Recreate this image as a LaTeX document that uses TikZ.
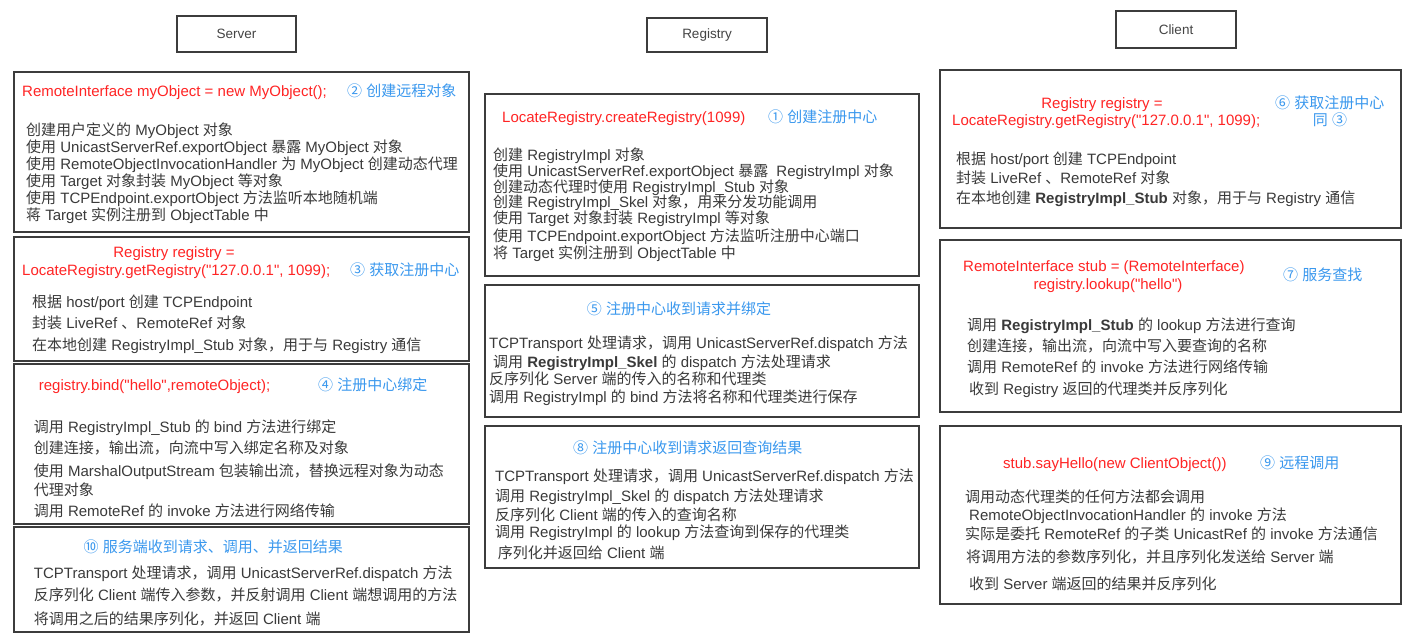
\documentclass[tikz,border=0pt]{standalone}
\usepackage{fontspec}
\setmainfont{Liberation Sans}[Ligatures=TeXOff]
\newfontfamily\cjkf{Noto Sans CJK SC}
\XeTeXinterchartokenstate=1
\newcount\cjkcnt
\newcommand\setcjkclass[3]{\cjkcnt=#1\relax\loop\XeTeXcharclass\cjkcnt=#3\relax\advance\cjkcnt by 1\relax\ifnum\cjkcnt<#2\relax\repeat}
\setcjkclass{"0021}{"007F}{0}
\setcjkclass{"2460}{"2500}{1}
\setcjkclass{"3000}{"3040}{1}
\setcjkclass{"4E00}{"A000}{1}
\setcjkclass{"FF00}{"FFF0}{1}
\XeTeXinterchartoks 0 1 = {\begingroup\cjkf}
\XeTeXinterchartoks 4095 1 = {\begingroup\cjkf}
\XeTeXinterchartoks 1 0 = {\endgroup}
\XeTeXinterchartoks 1 4095 = {\endgroup}
\definecolor{bodyc}{HTML}{3A3A3A}
\definecolor{hdrc}{HTML}{444444}
\definecolor{redc}{HTML}{FF2424}
\definecolor{bluec}{HTML}{3A98EE}
\definecolor{boxc}{HTML}{3C3C3C}
\newcommand\bline[4]{\node[body] (#1) at (#2,#3) {#4};}
\begin{document}
\begin{tikzpicture}[x=1pt,y=-1pt,
  panel/.style={draw=boxc, line width=1.7pt, anchor=north west, inner sep=0pt},
  hdr/.style={draw=boxc, line width=1.7pt, anchor=center, inner sep=0pt, font=\fontsize{13.5}{15}\selectfont, text=hdrc},
  body/.style={anchor=base west, inner sep=0pt, font=\fontsize{15}{18}\selectfont, text=bodyc},
  redt/.style={body, text=redc},
  bluet/.style={body, text=bluec}]
\fill[white] (0,0) rectangle (1425,634);
\useasboundingbox (0,0) rectangle (1425,634);
% headers
\node[hdr, minimum width=119pt, minimum height=36pt] (server) at (236.5,34) {Server};
\node[hdr, minimum width=120pt, minimum height=34pt] (registry) at (707,35) {Registry};
\node[hdr, minimum width=120pt, minimum height=37pt] (client) at (1176,29.5) {Client};
% panels
\node[panel, minimum width=455pt, minimum height=160pt] (pA) at (13,71) {};
\node[panel, minimum width=455pt, minimum height=124pt] (pB) at (13,236) {};
\node[panel, minimum width=455pt, minimum height=160pt] (pC) at (13,363) {};
\node[panel, minimum width=455pt, minimum height=105pt] (pD) at (13,526) {};
\node[panel, minimum width=434pt, minimum height=182pt] (pR1) at (484,93) {};
\node[panel, minimum width=434pt, minimum height=132pt] (pR5) at (484,284) {};
\node[panel, minimum width=434pt, minimum height=142pt] (pR8) at (484,425) {};
\node[panel, minimum width=461pt, minimum height=158pt] (pC6) at (939,69) {};
\node[panel, minimum width=461pt, minimum height=172pt] (pC7) at (939,239) {};
\node[panel, minimum width=461pt, minimum height=178pt] (pC9) at (939,425) {};
% Server A
\node[redt] (aR) at (22,96.5) {RemoteInterface myObject = new MyObject();};
\node[bluet] (aT) at (347,96.5) {② 创建远程对象};
\bline{a1}{26}{135}{创建用户定义的 MyObject 对象}
\bline{a2}{26}{152}{使用 UnicastServerRef.exportObject 暴露 MyObject 对象}
\bline{a3}{26}{169.5}{使用 RemoteObjectInvocationHandler 为 MyObject 创建动态代理}
\bline{a4}{26}{186}{使用 Target 对象封装 MyObject 等对象}
\bline{a5}{26}{203}{使用 TCPEndpoint.exportObject 方法监听本地随机端}
\bline{a6}{26}{220}{蒋 Target 实例注册到 ObjectTable 中}
% Server B
\node[redt, anchor=base] (bR1) at (174,257.5) {Registry registry =};
\node[redt] (bR2) at (22,275.5) {LocateRegistry.getRegistry("127.0.0.1", 1099);};
\node[bluet] (bT) at (350,275.5) {③ 获取注册中心};
\bline{b1}{32}{307.5}{根据 host/port 创建 TCPEndpoint}
\bline{b2}{32}{328}{封装 LiveRef 、RemoteRef 对象}
\bline{b3}{32}{350}{在本地创建 RegistryImpl\_Stub 对象，用于与 Registry 通信}
% Server C
\node[redt] (cR) at (38.7,390.5) {registry.bind("hello",remoteObject);};
\node[bluet] (cT) at (318,390.5) {④ 注册中心绑定};
\bline{c1}{33.7}{432.5}{调用 RegistryImpl\_Stub 的 bind 方法进行绑定}
\bline{c2}{33.7}{453.5}{创建连接，输出流，向流中写入绑定名称及对象}
\bline{c3}{33.7}{476.5}{使用 MarshalOutputStream 包装输出流，替换远程对象为动态}
\bline{c4}{33.7}{495}{代理对象}
\bline{c5}{33.7}{516.5}{调用 RemoteRef 的 invoke 方法进行网络传输}
% Server D
\node[bluet] (dT) at (83.5,552.5) {⑩ 服务端收到请求、调用、并返回结果};
\bline{d1}{33.7}{578.5}{TCPTransport 处理请求，调用 UnicastServerRef.dispatch 方法}
\bline{d2}{33.7}{600.5}{反序列化 Client 端传入参数，并反射调用 Client 端想调用的方法}
\bline{d3}{33.7}{624.5}{将调用之后的结果序列化，并返回 Client 端}
% Registry 1
\node[redt] (r1R) at (502,122.5) {LocateRegistry.createRegistry(1099)};
\node[bluet] (r1T) at (768,122.5) {① 创建注册中心};
\bline{r11}{493}{160.5}{创建 RegistryImpl 对象}
\bline{r12}{493}{176.5}{使用 UnicastServerRef.exportObject 暴露\hspace{4pt} RegistryImpl 对象}
\bline{r13}{493}{192}{创建动态代理时使用 RegistryImpl\_Stub 对象}
\bline{r14}{493}{207.5}{创建 RegistryImpl\_Skel 对象，用来分发功能调用}
\bline{r15}{493}{223.5}{使用 Target 对象封装 RegistryImpl 等对象}
\bline{r16}{493}{241}{使用 TCPEndpoint.exportObject 方法监听注册中心端口}
\bline{r17}{493}{258}{将 Target 实例注册到 ObjectTable 中}
% Registry 5
\node[bluet, anchor=base] (r5T) at (679,314.5) {⑤ 注册中心收到请求并绑定};
\bline{r51}{489}{348.5}{TCPTransport 处理请求，调用 UnicastServerRef.dispatch 方法}
\bline{r52}{493}{367}{调用 {\bfseries RegistryImpl\_Skel} 的 dispatch 方法处理请求}
\bline{r53}{489}{384.5}{反序列化 Server 端的传入的名称和代理类}
\bline{r54}{489}{402}{调用 RegistryImpl 的 bind 方法将名称和代理类进行保存}
% Registry 8
\node[bluet] (r8T) at (573,453.5) {⑧ 注册中心收到请求返回查询结果};
\bline{r81}{495}{481.5}{TCPTransport 处理请求，调用 UnicastServerRef.dispatch 方法}
\bline{r82}{495}{501.5}{调用 RegistryImpl\_Skel 的 dispatch 方法处理请求}
\bline{r83}{495}{520.5}{反序列化 Client 端的传入的查询名称}
\bline{r84}{495}{537.5}{调用 RegistryImpl 的 lookup 方法查询到保存的代理类}
\bline{r85}{497.7}{558.5}{序列化并返回给 Client 端}
% Client 6
\node[redt, anchor=base] (k6R1) at (1102,108) {Registry registry =};
\node[redt] (k6R2) at (952,125.5) {LocateRegistry.getRegistry("127.0.0.1", 1099);};
\node[bluet] (k6T1) at (1275,108) {⑥ 获取注册中心};
\node[bluet, anchor=base] (k6T2) at (1330,125.5) {同 ③};
\bline{k61}{956}{164.5}{根据 host/port 创建 TCPEndpoint}
\bline{k62}{956}{183.5}{封装 LiveRef 、RemoteRef 对象}
\bline{k63}{956}{203.5}{在本地创建 {\bfseries RegistryImpl\_Stub} 对象，用于与 Registry 通信}
% Client 7
\node[redt] (k7R1) at (963,271.5) {RemoteInterface stub = (RemoteInterface)};
\node[redt, anchor=base] (k7R2) at (1108,289.5) {registry.lookup("hello")};
\node[bluet] (k7T) at (1283,280.5) {⑦ 服务查找};
\bline{k71}{967}{330.5}{调用 {\bfseries RegistryImpl\_Stub} 的 lookup 方法进行查询}
\bline{k72}{967}{351}{创建连接，输出流，向流中写入要查询的名称}
\bline{k73}{967}{372.5}{调用 RemoteRef 的 invoke 方法进行网络传输}
\bline{k74}{969}{394.5}{收到 Registry 返回的代理类并反序列化}
% Client 9
\node[redt] (k9R) at (1003,468.5) {stub.sayHello(new ClientObject())};
\node[bluet] (k9T) at (1260,468.5) {⑨ 远程调用};
\bline{k91}{965}{502.5}{调用动态代理类的任何方法都会调用}
\bline{k92}{969}{520.5}{RemoteObjectInvocationHandler 的 invoke 方法}
\bline{k93}{965}{539.5}{实际是委托 RemoteRef 的子类 UnicastRef 的 invoke 方法通信}
\bline{k94}{966}{562.5}{将调用方法的参数序列化，并且序列化发送给 Server 端}
\bline{k95}{969}{589.5}{收到 Server 端返回的结果并反序列化}
\end{tikzpicture}
\end{document}
